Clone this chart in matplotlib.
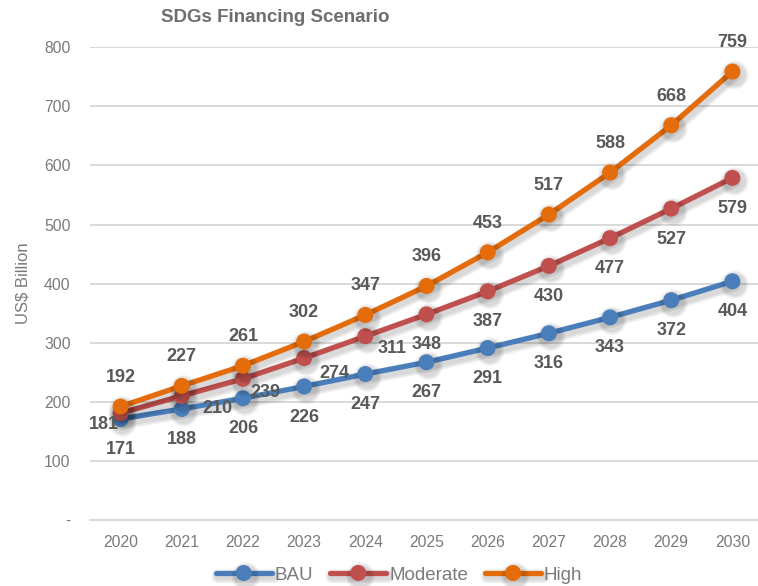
import matplotlib
matplotlib.use("Agg")
import matplotlib.pyplot as plt
import matplotlib.patheffects as pe

plt.rcParams['font.family'] = ['Liberation Sans', 'DejaVu Sans']

years = ["2020", "2021", "2022", "2023", "2024", "2025",
         "2026", "2027", "2028", "2029", "2030"]
bau = [171, 188, 206, 226, 247, 267, 291, 316, 343, 372, 404]
moderate = [181, 210, 239, 274, 311, 348, 387, 430, 477, 527, 579]
high = [192, 227, 261, 302, 347, 396, 453, 517, 588, 668, 759]

yticks = [0, 100, 200, 300, 400, 500, 600, 700, 800]
ytick_labels = ["-", "100", "200", "300", "400", "500", "600", "700", "800"]

# label offsets (points) for the moderate series, where they would collide
mod_offsets = [(-12, -8), (26, -9), (16, -10), (22, -11), (19, -9)] + [(0, -22)] * 6

c_bau = "#4a7ebb"
c_mod = "#c0504d"
c_high = "#e46c0a"
lbl_col = "#595959"
tick_col = "#7a7a7a"

fig = plt.figure(figsize=(7.58, 5.86), dpi=100)
ax = fig.add_axes([90 / 758, 66 / 586, 673 / 758, 472.7 / 586])

x = list(range(len(years)))
# soft drop shadow: a few widening, faint copies under the line
shadow = [pe.SimpleLineShadow(offset=(1.5, -2.5), shadow_color="black", alpha=0.05,
                              linewidth=w) for w in (10, 8, 6)] + [pe.Normal()]

for vals, col, name in [(bau, c_bau, "BAU"), (moderate, c_mod, "Moderate"),
                        (high, c_high, "High")]:
    ax.plot(x, vals, color=col, lw=3.8, marker="o", ms=10.5, label=name,
            path_effects=shadow, zorder=3, solid_capstyle="round")

lbl_kw = dict(textcoords="offset points", ha="center", va="center",
              fontsize=13, fontweight="bold", color=lbl_col, zorder=5)
for i, v in enumerate(high):
    ax.annotate(str(v), (i, v), xytext=(0, 21), **lbl_kw)
for i, v in enumerate(bau):
    ax.annotate(str(v), (i, v), xytext=(0, -22), **lbl_kw)
for i, v in enumerate(moderate):
    ax.annotate(str(v), (i, v), xytext=mod_offsets[i], **lbl_kw)

ax.set_xlim(-0.5, len(years) - 0.5)
ax.set_ylim(0, 800)
ax.set_xticks(x)
ax.set_xticklabels(years)
ax.set_yticks(yticks)
ax.set_yticklabels(ytick_labels)
ax.tick_params(axis="both", length=0, labelsize=11.3, labelcolor=tick_col)
ax.tick_params(axis="x", pad=11)
ax.tick_params(axis="y", pad=14)
ax.grid(axis="y", color="#d9d9d9", lw=1.4)
ax.set_axisbelow(True)
for s in ["top", "right", "left"]:
    ax.spines[s].set_visible(False)
ax.spines["bottom"].set_color("#d9d9d9")
ax.spines["bottom"].set_linewidth(1.4)

fig.text(23 / 758, 1 - 283 / 586, "US$ Billion", rotation=90, ha="center",
         va="center", fontsize=12, color=tick_col)
fig.text(275 / 758, 1 - 18 / 586, "SDGs Financing Scenario", ha="center",
         va="center", fontsize=13.5, fontweight="bold", color="#6e6e6e")

leg = fig.legend(loc="center", bbox_to_anchor=(399 / 758, 1 - 575 / 586),
                 ncol=3, frameon=False, fontsize=13.5, handlelength=3.0,
                 handletextpad=0.15, columnspacing=0.9, labelcolor=tick_col)

fig.savefig("out.png", dpi=100)
